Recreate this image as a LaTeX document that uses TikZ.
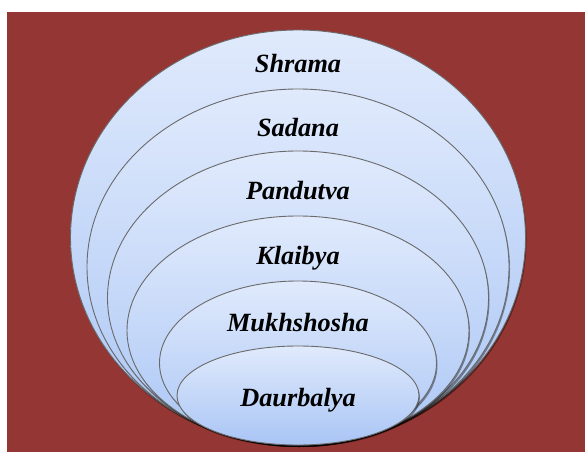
\documentclass[tikz,border=0pt]{standalone}
\usepackage{fontspec}
\setmainfont{Liberation Serif}
\usetikzlibrary{shapes.geometric,shadows}
\definecolor{bgred}{HTML}{943634}
\definecolor{ringtop}{HTML}{E0EAFC}
\definecolor{ringbot}{HTML}{A9C5F5}
\definecolor{ringline}{HTML}{6A6A6A}
\tikzset{
  ring/.style={ellipse, draw=ringline, line width=0.9bp, inner sep=0pt,
    top color=ringtop, bottom color=ringbot,
    drop shadow={shadow xshift=1bp, shadow yshift=-2bp, opacity=0.4, fill=black}},
  ringlabel/.style={anchor=base, font=\fontsize{26.3bp}{30bp}\selectfont\bfseries\itshape}
}
\begin{document}
\begin{tikzpicture}[x=1bp, y=-1bp]
    \useasboundingbox (0,0) rectangle (585,452);
    \fill[bgred] (7,12) rectangle (585,452);
    \node[ring, minimum width=455bp, minimum height=415bp] (shrama) at (298,237.5) {};
    \node[ring, minimum width=422bp, minimum height=356bp] (sadana) at (298,267) {};
    \node[ring, minimum width=381bp, minimum height=294bp] (pandutva) at (298,298) {};
    \node[ring, minimum width=342bp, minimum height=229bp] (klaibya) at (298,330.5) {};
    \node[ring, minimum width=277bp, minimum height=164bp] (mukh) at (298,363) {};
    \node[ring, minimum width=242bp, minimum height=99bp] (daur) at (298,395.5) {};
    \node[ringlabel] (shramaL) at (298,73) {Shrama};
    \node[ringlabel] (sadanaL) at (298,137) {Sadana};
    \node[ringlabel] (pandutvaL) at (298,200) {Pandutva};
    \node[ringlabel] (klaibyaL) at (298,265) {Klaibya};
    \node[ringlabel] (mukhL) at (298,331) {Mukhshosha};
    \node[ringlabel] (daurL) at (298,406) {Daurbalya};
\end{tikzpicture}
\end{document}
